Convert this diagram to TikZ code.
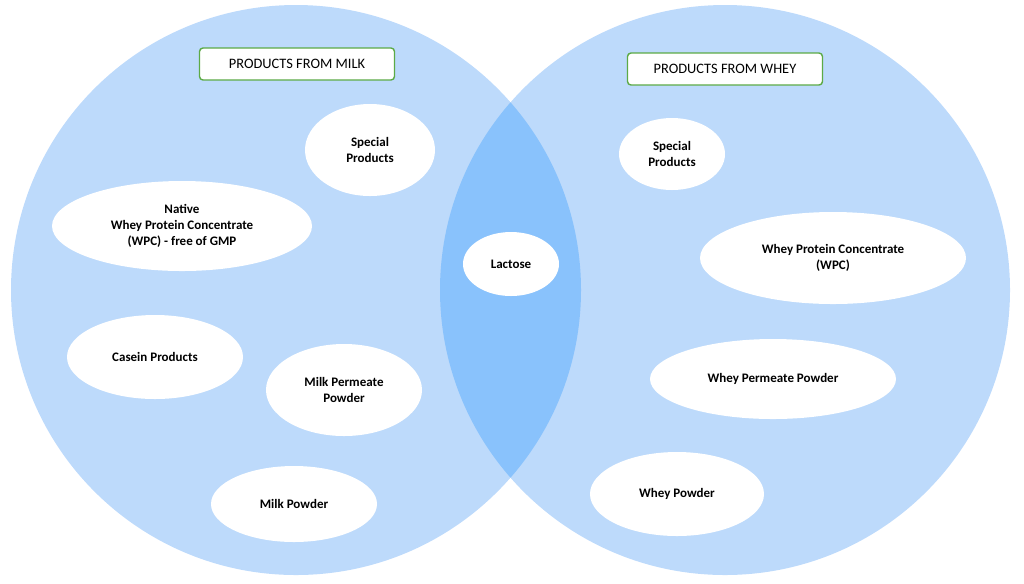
\documentclass[tikz,border=0pt]{standalone}
\usepackage{fontspec}
\setmainfont{Carlito}
\usetikzlibrary{shapes.geometric}
\definecolor{lb}{RGB}{189,218,251}
\definecolor{lens}{RGB}{137,194,252}
\definecolor{gb}{RGB}{92,170,70}
\tikzset{x=0.02cm,y=-0.02cm,
 item/.style={ellipse,fill=white,inner sep=0pt,align=center,font=\fontsize{7.4}{9}\selectfont\bfseries},
 title/.style={draw=gb,line width=0.8pt,fill=white,rounded corners=2pt,minimum width=195*0.02cm,minimum height=32*0.02cm,font=\fontsize{8.2}{10}\selectfont}}
\begin{document}
\begin{tikzpicture}
\useasboundingbox (0,0) rectangle (1024,583);
\fill[lb] (296,290) circle (285*0.02cm);
\fill[lb] (725,290) circle (285*0.02cm);
\begin{scope}
\clip (296,290) circle (285*0.02cm);
\fill[lens] (725,290) circle (285*0.02cm);
\end{scope}
\node[title] (tm) at (297,64) {PRODUCTS FROM MILK};
\node[title] (tw) at (725,69) {PRODUCTS FROM WHEY};
\node[item,minimum width=130*0.02cm,minimum height=92*0.02cm] (sp1) at (370,150) {Special\\Products};
\node[item,minimum width=260*0.02cm,minimum height=90*0.02cm] (nw) at (182,226) {Native\\Whey Protein Concentrate\\(WPC) - free of GMP};
\node[item,minimum width=176*0.02cm,minimum height=84*0.02cm] (cp) at (155,357) {Casein Products};
\node[item,minimum width=156*0.02cm,minimum height=92*0.02cm] (mpp) at (344,390) {Milk Permeate\\Powder};
\node[item,minimum width=166*0.02cm,minimum height=76*0.02cm] (mp) at (294,504) {Milk Powder};
\node[item,minimum width=96*0.02cm,minimum height=64*0.02cm] (la) at (511,264) {Lactose};
\node[item,minimum width=106*0.02cm,minimum height=72*0.02cm] (sp2) at (672,154) {Special\\Products};
\node[item,minimum width=266*0.02cm,minimum height=92*0.02cm] (wpc) at (833,258) {Whey Protein Concentrate\\(WPC)};
\node[item,minimum width=246*0.02cm,minimum height=80*0.02cm] (wpp) at (773,379) {Whey Permeate Powder};
\node[item,minimum width=174*0.02cm,minimum height=84*0.02cm] (wp) at (677,494) {Whey Powder};
\end{tikzpicture}
\end{document}
